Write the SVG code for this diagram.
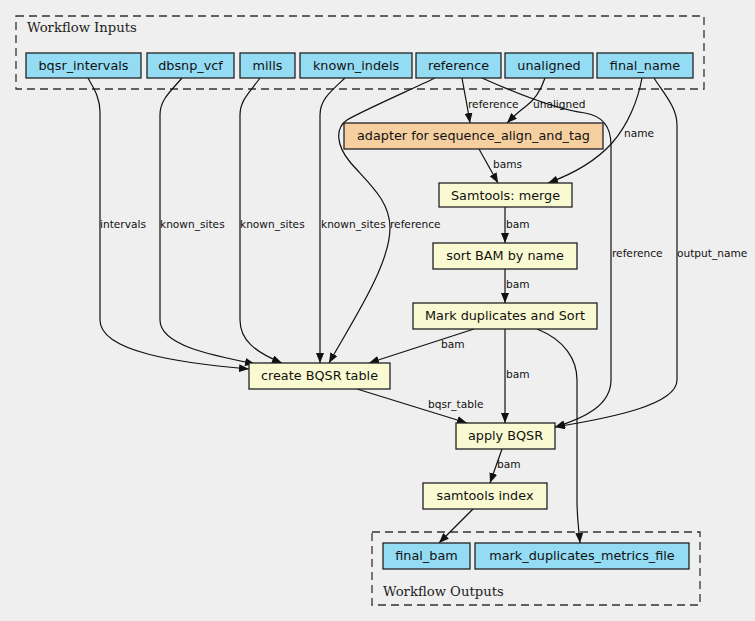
<svg xmlns="http://www.w3.org/2000/svg" width="755" height="621" viewBox="0 0 755 621">
<style>
.bg{fill:#efefef}
.cl{fill:none;stroke:#333;stroke-width:1.3;stroke-dasharray:8,5}
.ct{font-family:"DejaVu Serif","Liberation Serif",serif;font-size:13.2px;fill:#222}
.io rect{fill:#94dcf4;stroke:#222;stroke-width:1.3}
.ad rect{fill:#f5cfa0;stroke:#222;stroke-width:1.3}
.st rect{fill:#fafad2;stroke:#222;stroke-width:1.3}
.n text{font-family:"DejaVu Sans","Liberation Sans",sans-serif;font-size:12.8px;fill:#111;text-anchor:middle}
#edges path{fill:none;stroke:#111;stroke-width:1.2}
#edges text{font-family:"DejaVu Sans","Liberation Sans",sans-serif;font-size:10.6px;fill:#111}
</style>
<defs>
<marker id="ah" viewBox="0 0 10 8" refX="10" refY="4" markerWidth="10" markerHeight="8" markerUnits="userSpaceOnUse" orient="auto">
<path d="M0,0 L10,4 L0,8 z" fill="#111"/>
</marker>
</defs>
<rect class="bg" x="0" y="0" width="755" height="621"/>
<g id="cluster-inputs">
<rect class="cl" x="16" y="16" width="688" height="73"/>
<text class="ct" x="27" y="32">Workflow Inputs</text>
</g>
<g id="cluster-outputs">
<rect class="cl" x="372" y="532" width="328" height="73"/>
<text class="ct" x="383" y="596">Workflow Outputs</text>
</g>
<g id="edges">
<path d="M88,78 C92,86 100,96 100,112 L100,320 C100,352 180,363 249,369" marker-end="url(#ah)"/>
<path d="M182,78 C170,92 160,100 160,115 L160,320 C160,345 210,355 255,364" marker-end="url(#ah)"/>
<path d="M260,78 C250,92 240,100 240,115 L240,320 C240,340 255,352 282,363" marker-end="url(#ah)"/>
<path d="M345,78 C330,92 320,100 320,115 L320,363" marker-end="url(#ah)"/>
<path d="M435,78 C410,90 360,112 347,120 C335,128 336,145 350,162 C368,183 390,200 390,228 C390,265 352,322 329,363" marker-end="url(#ah)"/>
<path d="M462,78 C465,95 468,110 470,123" marker-end="url(#ah)"/>
<path d="M482,78 C520,95 560,110 585,113 C603,116 611,128 611,145 L611,380 C611,405 585,418 555,427" marker-end="url(#ah)"/>
<path d="M545,78 C541,90 535,100 525,107 C518,112 512,118 507,123" marker-end="url(#ah)"/>
<path d="M642,78 C638,100 628,125 612,143 C595,162 570,175 548,183" marker-end="url(#ah)"/>
<path d="M654,78 C665,95 677,108 677,125 L677,380 C677,405 610,418 555,427" marker-end="url(#ah)"/>
<path d="M479,149 L498,183" marker-end="url(#ah)"/>
<path d="M505,207 L505,243" marker-end="url(#ah)"/>
<path d="M505,269 L505,303" marker-end="url(#ah)"/>
<path d="M474,329 L369,363" marker-end="url(#ah)"/>
<path d="M505,329 L505,423" marker-end="url(#ah)"/>
<path d="M537,329 C565,340 577,360 577,380 L577,500 C577,520 579,530 580,543" marker-end="url(#ah)"/>
<path d="M357,389 L467,423" marker-end="url(#ah)"/>
<path d="M502,449 L490,483" marker-end="url(#ah)"/>
<path d="M473,509 L439,543" marker-end="url(#ah)"/>
<text x="100" y="228">intervals</text>
<text x="160" y="228">known_sites</text>
<text x="240" y="228">known_sites</text>
<text x="321" y="228">known_sites</text>
<text x="390" y="228">reference</text>
<text x="468" y="108">reference</text>
<text x="533" y="108">unaligned</text>
<text x="624" y="137">name</text>
<text x="493" y="168">bams</text>
<text x="506" y="228">bam</text>
<text x="506" y="288">bam</text>
<text x="612" y="257">reference</text>
<text x="677" y="257">output_name</text>
<text x="441" y="348">bam</text>
<text x="506" y="378">bam</text>
<text x="428" y="408">bqsr_table</text>
<text x="497" y="468">bam</text>
</g>
<g id="bqsr_intervals" class="n io"><rect x="26" y="53" width="115" height="25"/><text x="83.5" y="69.5">bqsr_intervals</text></g>
<g id="dbsnp_vcf" class="n io"><rect x="147" y="53" width="87" height="25"/><text x="190.5" y="69.5">dbsnp_vcf</text></g>
<g id="mills" class="n io"><rect x="240" y="53" width="55" height="25"/><text x="267.5" y="69.5">mills</text></g>
<g id="known_indels" class="n io"><rect x="300" y="53" width="112" height="25"/><text x="356" y="69.5">known_indels</text></g>
<g id="reference" class="n io"><rect x="416" y="53" width="85" height="25"/><text x="458.5" y="69.5">reference</text></g>
<g id="unaligned" class="n io"><rect x="505" y="53" width="88" height="25"/><text x="549" y="69.5">unaligned</text></g>
<g id="final_name" class="n io"><rect x="597" y="53" width="96" height="25"/><text x="645" y="69.5">final_name</text></g>
<g id="adapter" class="n ad"><rect x="344" y="123" width="259" height="26"/><text x="473.5" y="140">adapter for sequence_align_and_tag</text></g>
<g id="samtools_merge" class="n st"><rect x="439" y="183" width="133" height="24"/><text x="505.5" y="199.5">Samtools: merge</text></g>
<g id="sort_bam" class="n st"><rect x="433" y="243" width="144" height="26"/><text x="505" y="260">sort BAM by name</text></g>
<g id="mark_duplicates" class="n st"><rect x="413" y="303" width="184" height="26"/><text x="505" y="320">Mark duplicates and Sort</text></g>
<g id="create_bqsr" class="n st"><rect x="249" y="363" width="141" height="26"/><text x="319.5" y="380">create BQSR table</text></g>
<g id="apply_bqsr" class="n st"><rect x="456" y="423" width="99" height="26"/><text x="505.5" y="440">apply BQSR</text></g>
<g id="samtools_index" class="n st"><rect x="423" y="483" width="124" height="26"/><text x="485" y="500">samtools index</text></g>
<g id="final_bam" class="n io"><rect x="383" y="543" width="87" height="26"/><text x="426.5" y="560">final_bam</text></g>
<g id="mark_duplicates_metrics_file" class="n io"><rect x="475" y="543" width="214" height="26"/><text x="582" y="560">mark_duplicates_metrics_file</text></g>
</svg>
